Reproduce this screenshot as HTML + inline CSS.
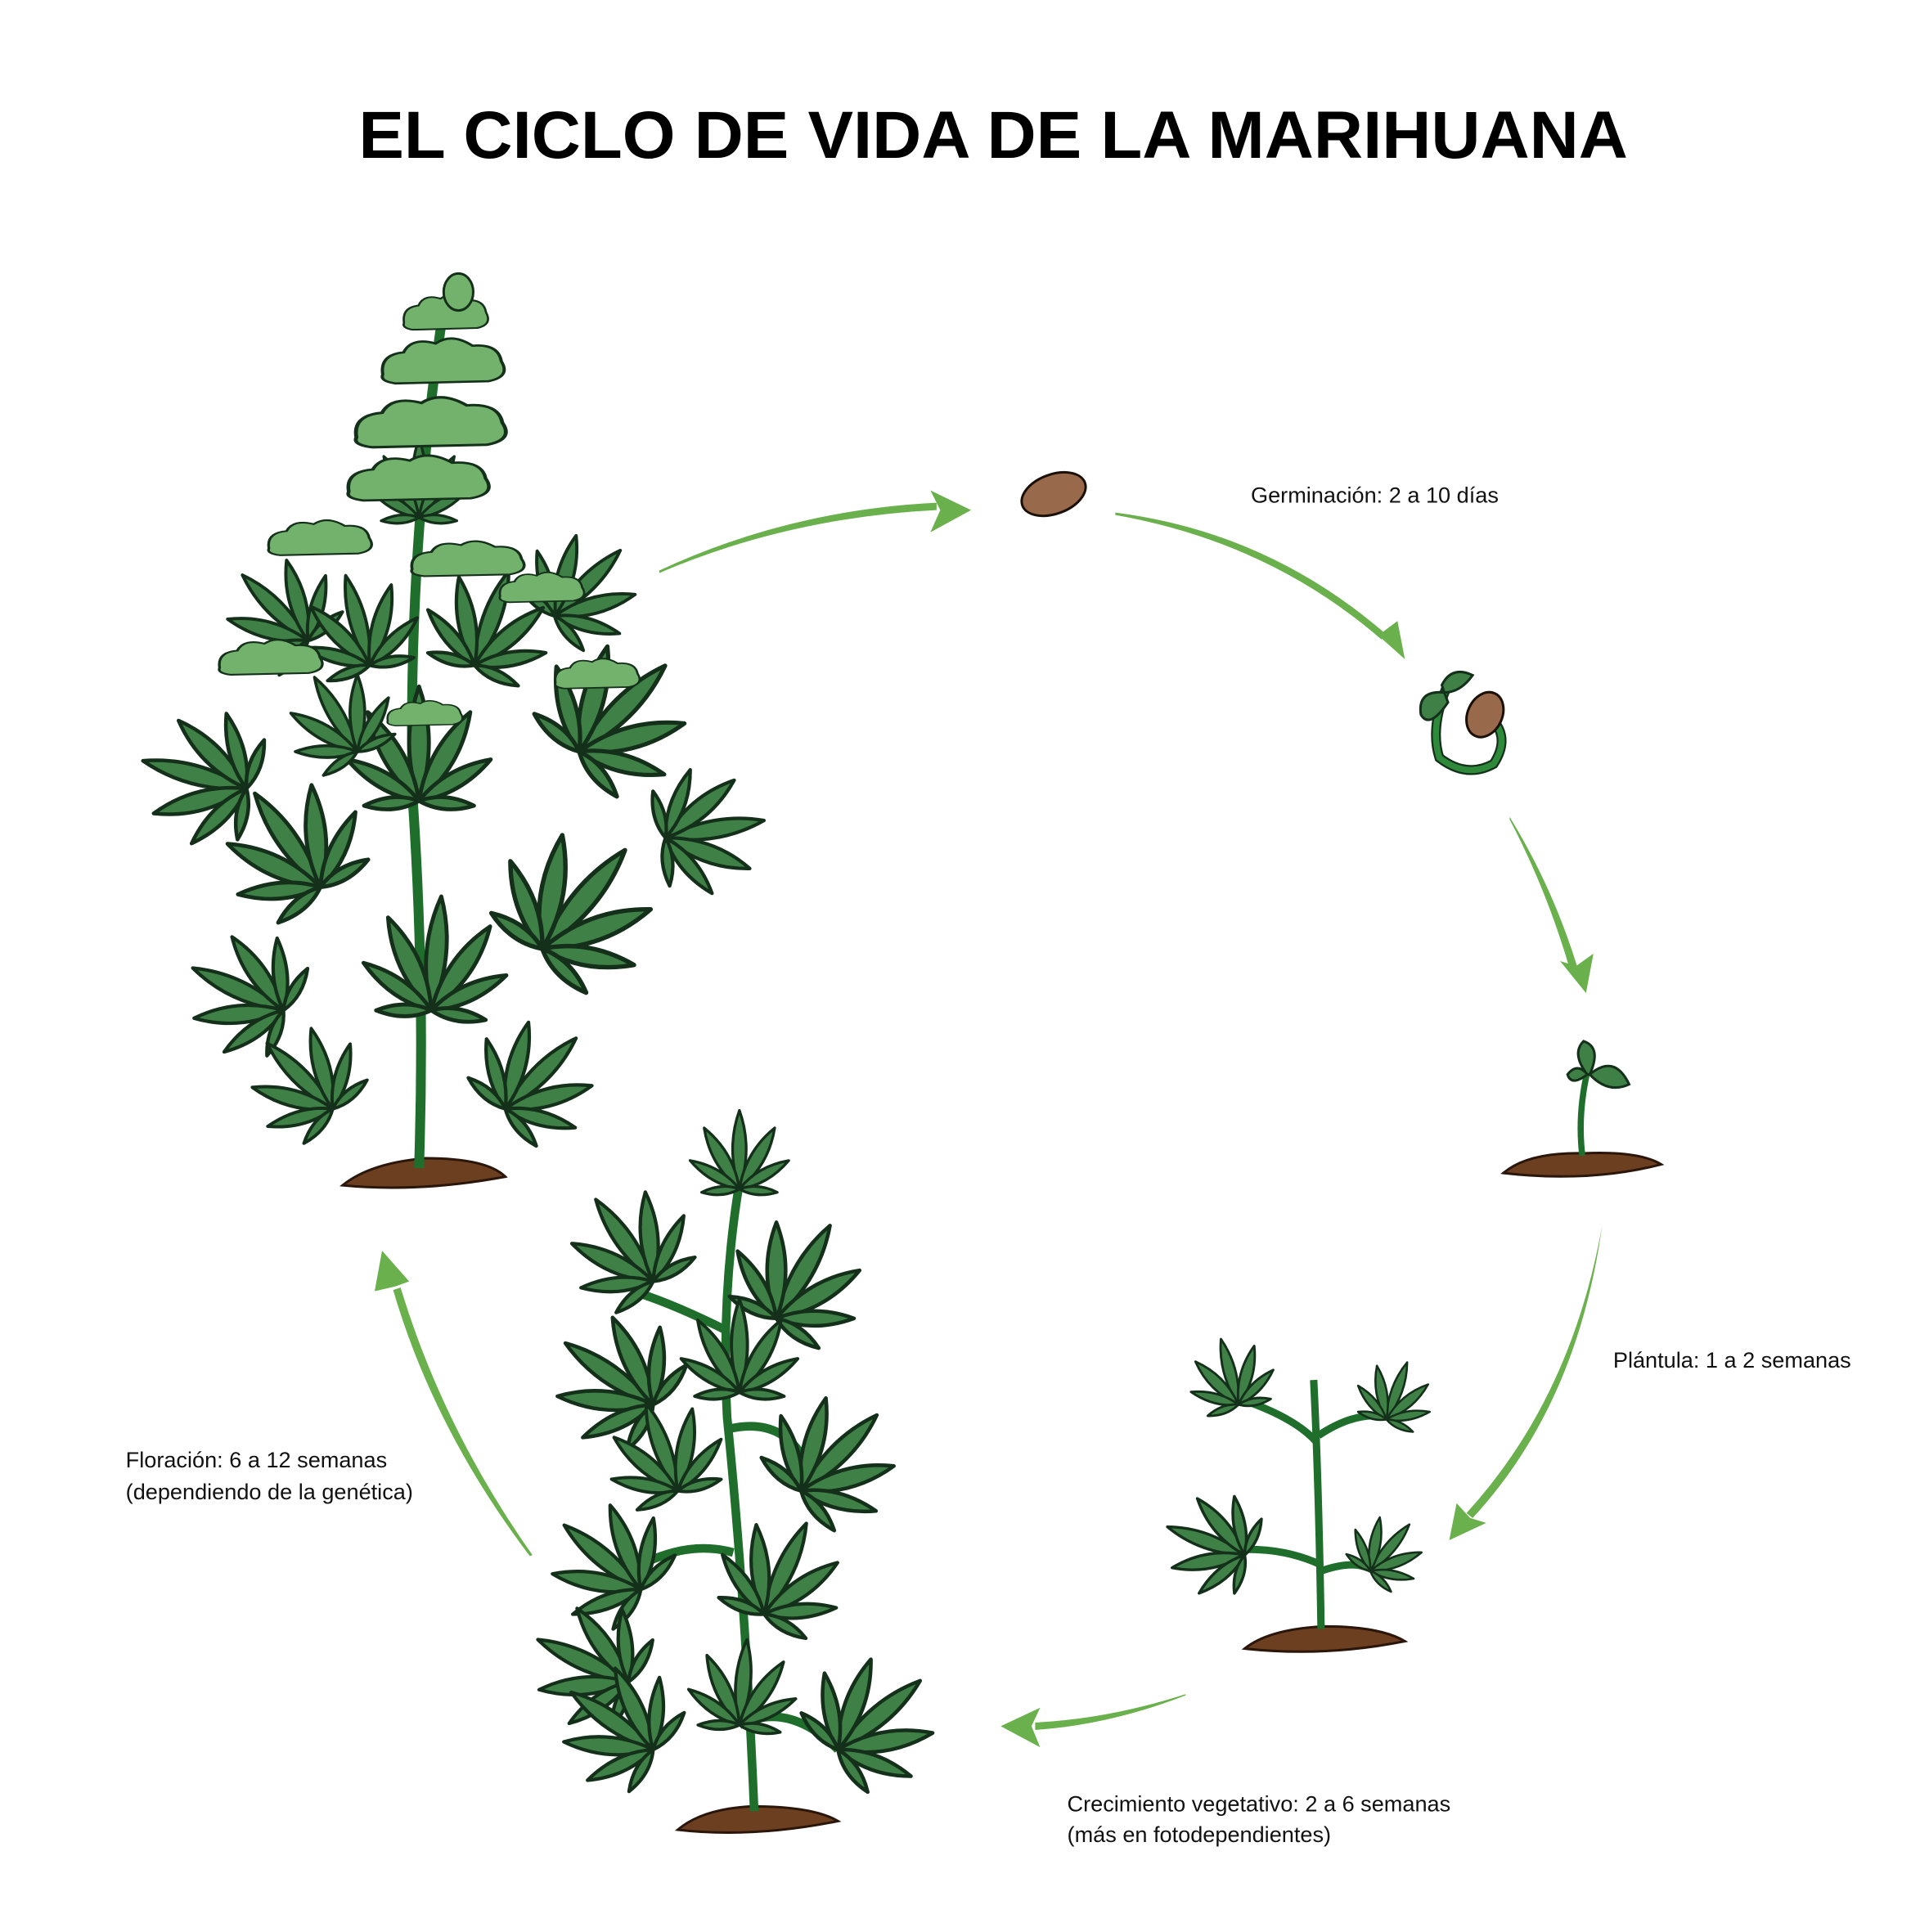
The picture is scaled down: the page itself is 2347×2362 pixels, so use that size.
<!DOCTYPE html>
<html><head><meta charset="utf-8"><style>
html,body{margin:0;padding:0;background:#fff}
svg{display:block}
text{font-family:"Liberation Sans",sans-serif}
</style></head><body>
<svg width="2347" height="2362" viewBox="0 0 1558 1568" xmlns="http://www.w3.org/2000/svg">
<defs>
<g id="lf" fill="#3f8046" stroke="#14301a" stroke-width="2" stroke-linejoin="round">
<path d="M0,0 Q10,-30 0,-58 Q-10,-30 0,0Z"/>
<path d="M0,0 Q10,-26 0,-52 Q-10,-26 0,0Z" transform="rotate(-30)"/>
<path d="M0,0 Q10,-26 0,-52 Q-10,-26 0,0Z" transform="rotate(30)"/>
<path d="M0,0 Q8,-20 0,-42 Q-8,-20 0,0Z" transform="rotate(-60)"/>
<path d="M0,0 Q8,-20 0,-42 Q-8,-20 0,0Z" transform="rotate(60)"/>
<path d="M0,0 Q6,-13 0,-28 Q-6,-13 0,0Z" transform="rotate(-95)"/>
<path d="M0,0 Q6,-13 0,-28 Q-6,-13 0,0Z" transform="rotate(95)"/>
</g>
<g id="bud" fill="#73b26d" stroke="#14301a" stroke-width="2">
<path d="M-38,10 Q-40,-8 -25,-10 Q-20,-24 -5,-18 Q5,-28 18,-16 Q34,-18 36,-2 Q42,12 28,16 L-30,18 Q-40,16 -38,10Z"/>
</g>
</defs>
<rect width="1558" height="1568" fill="#fff"/>
<text x="806" y="128" text-anchor="middle" font-size="54" font-weight="bold" fill="#000" textLength="1030" lengthAdjust="spacingAndGlyphs">EL CICLO DE VIDA DE LA MARIHUANA</text>

<g fill="#6ab04c" stroke="none">
<path d="M535,465 Q640,420 760,414 L760,408 Q640,414 535,463Z"/>
<polygon points="755,398 788,414 755,432 763,414"/>
<path d="M905,416 Q1030,432 1125,515 L1121,519 Q1030,440 905,418Z"/>
<polygon points="1112,510 1140,535 1134,504 1122,513"/>
<path d="M1225,663 Q1260,720 1280,785 L1274,787 Q1255,722 1225,665Z"/>
<polygon points="1266,780 1287,806 1293,774 1279,784"/>
<path d="M1300,995 Q1280,1140 1195,1232 L1190,1228 Q1275,1135 1300,995Z"/>
<polygon points="1182,1220 1176,1250 1206,1236 1193,1232"/>
<path d="M962,1375 Q900,1395 840,1398 L840,1404 Q900,1400 962,1376Z"/>
<polygon points="844,1386 812,1401 844,1418 837,1401"/>
<path d="M432,1262 Q360,1160 325,1045 L319,1047 Q352,1160 430,1263Z"/>
<polygon points="304,1048 310,1015 332,1040 321,1044"/>
</g>

<text x="1015" y="408" font-size="18" fill="#111">Germinación: 2 a 10 días</text>
<text x="1309" y="1110" font-size="18" fill="#111">Plántula: 1 a 2 semanas</text>
<text x="866" y="1470" font-size="18" fill="#111">Crecimiento vegetativo: 2 a 6 semanas</text>
<text x="866" y="1495" font-size="18" fill="#111">(más en fotodependientes)</text>
<text x="102" y="1191" font-size="18" fill="#111">Floración: 6 a 12 semanas</text>
<text x="102" y="1217" font-size="18" fill="#111">(dependiendo de la genética)</text>

<!-- seed -->
<ellipse cx="855" cy="401" rx="27" ry="16" transform="rotate(-20 855 401)" fill="#98694a" stroke="#1a1008" stroke-width="2"/>
<!-- sprout -->
<path d="M1175,555 Q1160,590 1168,615 Q1190,632 1212,620 Q1225,600 1212,585" fill="none" stroke="#14301a" stroke-width="8"/>
<path d="M1175,555 Q1160,590 1168,615 Q1190,632 1212,620 Q1225,600 1212,585" fill="none" stroke="#2e8a3a" stroke-width="5"/>
<path d="M1172,562 Q1150,560 1153,580 Q1160,592 1175,570Z M1170,556 Q1178,540 1195,548 Q1185,562 1172,562Z" fill="#3f8046" stroke="#14301a" stroke-width="2"/>
<ellipse cx="1205" cy="580" rx="14" ry="19" transform="rotate(25 1205 580)" fill="#98694a" stroke="#1a1008" stroke-width="2"/>
<!-- seedling -->
<path d="M1220,952 Q1240,935 1285,936 Q1330,934 1348,945 Q1290,960 1220,952Z" fill="#6b3f1f" stroke="#2a160a" stroke-width="2"/>
<path d="M1284,938 Q1280,905 1288,870" fill="none" stroke="#1f6e2c" stroke-width="5"/>
<path d="M1288,872 Q1275,855 1285,845 Q1300,850 1290,872Z M1290,872 Q1310,855 1322,880 Q1305,888 1290,872Z M1288,872 Q1275,882 1272,872 Q1280,862 1288,872Z" fill="#3f8046" stroke="#14301a" stroke-width="2"/>
<!-- small plant -->
<path d="M1010,1338 Q1030,1322 1075,1320 Q1120,1320 1140,1332 Q1075,1345 1010,1338Z" fill="#6b3f1f" stroke="#2a160a" stroke-width="2"/>
<g fill="none" stroke="#1f6e2c" stroke-width="6">
<path d="M1072,1322 Q1070,1200 1066,1120"/>
<path d="M1068,1170 Q1050,1150 1005,1135 M1070,1165 Q1100,1145 1125,1150 M1072,1270 Q1040,1255 1000,1258 M1072,1275 Q1100,1265 1115,1275"/>
</g>
<use href="#lf" transform="translate(1005,1140) rotate(-15) scale(0.95)"/>
<use href="#lf" transform="translate(1125,1152) rotate(20) scale(0.85)"/>
<use href="#lf" transform="translate(1010,1262) rotate(-70) scale(1.15)"/>
<use href="#lf" transform="translate(1112,1275) rotate(40) scale(0.85)"/>
<!-- medium plant -->
<path d="M550,1485 Q570,1468 610,1466 Q660,1466 680,1478 Q610,1492 550,1485Z" fill="#6b3f1f" stroke="#2a160a" stroke-width="2"/>
<g fill="none" stroke="#1f6e2c" stroke-width="7">
<path d="M612,1470 Q605,1300 590,1150 Q585,1050 600,960"/>
<path d="M600,1400 Q640,1380 680,1420 M595,1260 Q560,1250 520,1270 M590,1160 Q630,1150 650,1180 M590,1080 Q550,1060 520,1050"/>
</g>
<g>
<use href="#lf" transform="translate(600,965) scale(1.1)"/>
<use href="#lf" transform="translate(530,1040) rotate(-35) scale(1.4)"/>
<use href="#lf" transform="translate(630,1070) rotate(30) scale(1.5)"/>
<use href="#lf" transform="translate(530,1140) rotate(-55) scale(1.5)"/>
<use href="#lf" transform="translate(600,1130) rotate(0) scale(1.3)"/>
<use href="#lf" transform="translate(650,1210) rotate(45) scale(1.5)"/>
<use href="#lf" transform="translate(550,1210) rotate(-20) scale(1.3)"/>
<use href="#lf" transform="translate(520,1290) rotate(-50) scale(1.4)"/>
<use href="#lf" transform="translate(620,1310) rotate(25) scale(1.4)"/>
<use href="#lf" transform="translate(510,1365) rotate(-65) scale(1.4)"/>
<use href="#lf" transform="translate(680,1420) rotate(50) scale(1.5)"/>
<use href="#lf" transform="translate(530,1420) rotate(-55) scale(1.4)"/>
<use href="#lf" transform="translate(600,1400) rotate(5) scale(1.2)"/>
</g>
<!-- big plant -->
<path d="M278,962 Q300,944 345,940 Q395,940 410,955 Q340,968 278,962Z" fill="#6b3f1f" stroke="#2a160a" stroke-width="2"/>
<g fill="none" stroke="#1f6e2c" stroke-width="8">
<path d="M340,948 Q345,800 335,650 Q330,450 360,250"/>
</g>
<g>
<use href="#lf" transform="translate(250,520) rotate(-45) scale(1.3)"/>
<use href="#lf" transform="translate(450,500) rotate(45) scale(1.3)"/>
<use href="#lf" transform="translate(200,640) rotate(-75) scale(1.5)"/>
<use href="#lf" transform="translate(470,610) rotate(45) scale(1.7)"/>
<use href="#lf" transform="translate(540,680) rotate(80) scale(1.4)"/>
<use href="#lf" transform="translate(260,720) rotate(-35) scale(1.6)"/>
<use href="#lf" transform="translate(340,650) rotate(0) scale(1.6)"/>
<use href="#lf" transform="translate(440,770) rotate(40) scale(1.8)"/>
<use href="#lf" transform="translate(230,820) rotate(-65) scale(1.4)"/>
<use href="#lf" transform="translate(350,820) rotate(5) scale(1.6)"/>
<use href="#lf" transform="translate(270,900) rotate(-45) scale(1.3)"/>
<use href="#lf" transform="translate(410,900) rotate(45) scale(1.4)"/>
<use href="#lf" transform="translate(300,540) rotate(-15) scale(1.3)"/>
<use href="#lf" transform="translate(385,540) rotate(20) scale(1.4)"/>
<use href="#lf" transform="translate(290,610) rotate(-30) scale(1.2)"/>
<use href="#lf" transform="translate(340,420) rotate(0) scale(1.1)"/>
</g>
<g>
<use href="#bud" transform="translate(362,255) scale(0.9,0.7)"/>
<use href="#bud" transform="translate(360,295) scale(1.3,0.9)"/>
<use href="#bud" transform="translate(350,345) scale(1.6,1.0)"/>
<use href="#bud" transform="translate(340,390) scale(1.5,0.9)"/>
<use href="#bud" transform="translate(260,438) scale(1.1,0.7)"/>
<use href="#bud" transform="translate(380,455) scale(1.2,0.7)"/>
<use href="#bud" transform="translate(440,478) scale(0.9,0.6)"/>
<use href="#bud" transform="translate(220,535) scale(1.1,0.7)"/>
<use href="#bud" transform="translate(485,548) scale(0.9,0.6)"/>
<use href="#bud" transform="translate(345,580) scale(0.8,0.5)"/>
</g>
<ellipse cx="372" cy="237" rx="12" ry="15" fill="#73b26d" stroke="#14301a" stroke-width="2"/>
</svg>
</body></html>
